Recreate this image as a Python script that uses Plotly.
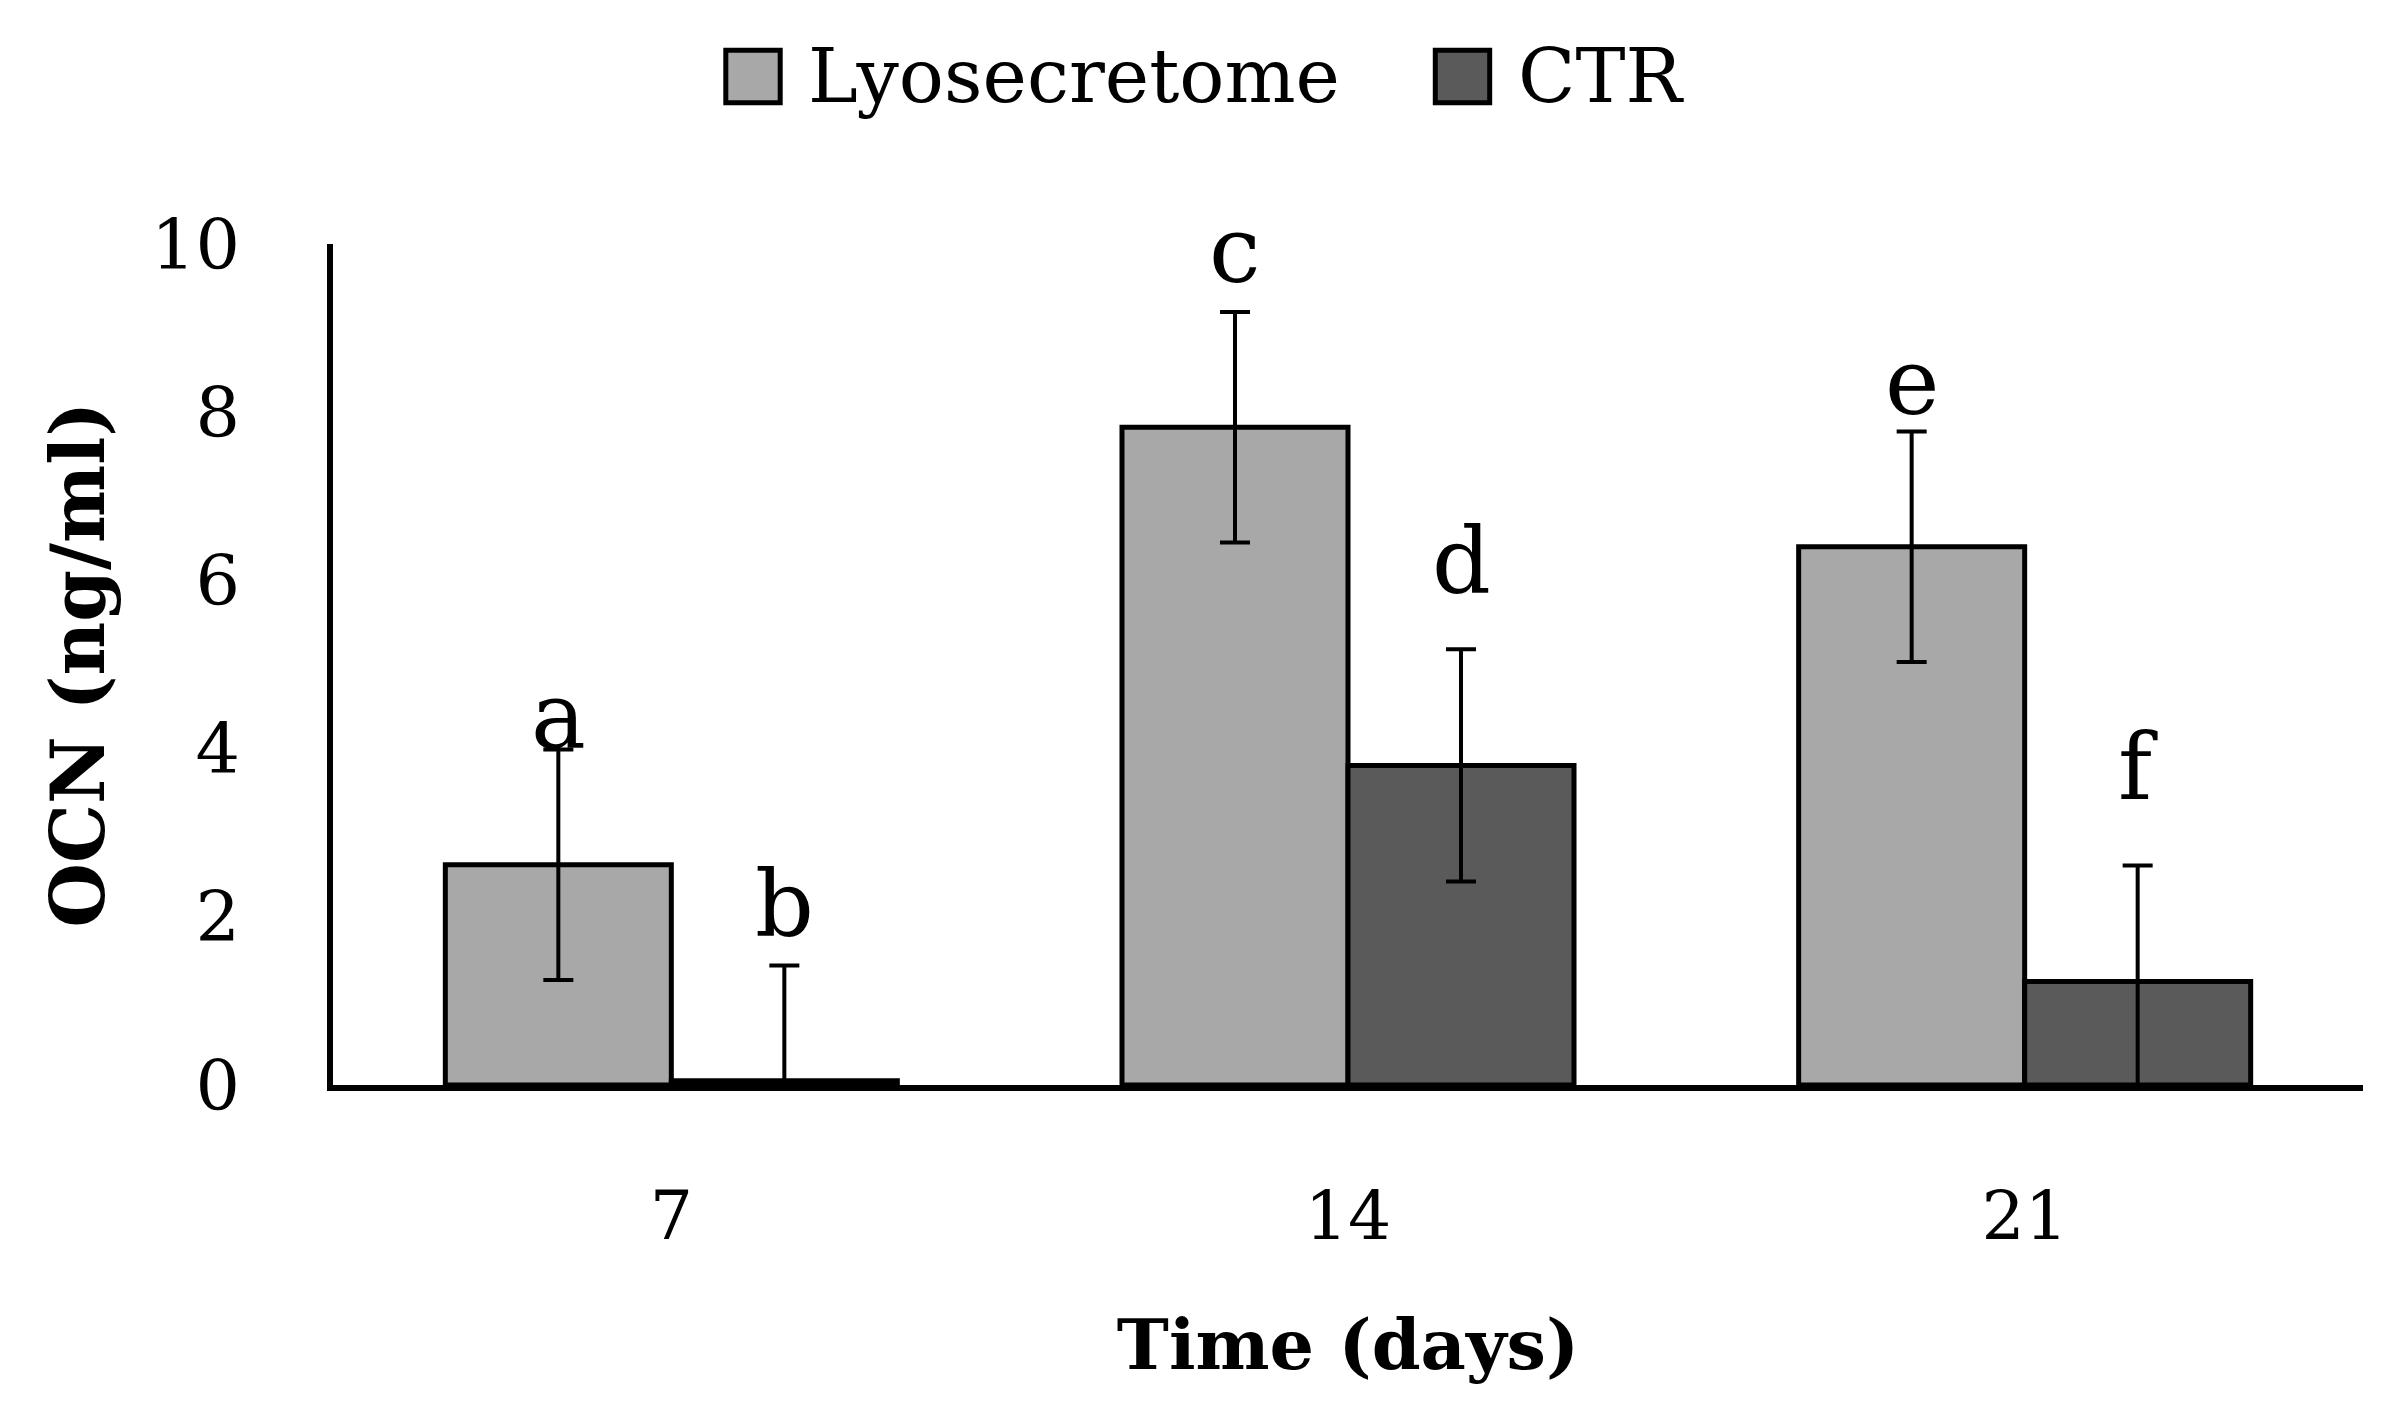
import plotly.graph_objects as go

# ---- data ----
days = ["7", "14", "21"]
lyo_values = [2.62, 7.82, 6.40]
lyo_errors = [1.37, 1.37, 1.37]
ctr_values = [0.05, 3.80, 1.23]
ctr_errors = [1.37, 1.38, 1.38]
lyo_letters = ["a", "c", "e"]
ctr_letters = ["b", "d", "f"]
lyo_letter_y = [3.98, 9.52, 7.95]
ctr_letter_y = [1.75, 5.83, 3.38]

FONT = "DejaVu Serif"
LYO_COLOR = "#A8A8A8"
CTR_COLOR = "#5A5A5A"

fig = go.Figure()
fig.add_trace(go.Bar(
    name="Lyosecretome", x=days, y=lyo_values,
    marker=dict(color=LYO_COLOR, line=dict(color="black", width=5)),
    error_y=dict(type="data", array=lyo_errors, visible=True, color="black", thickness=4, width=15),
    showlegend=False,
))
fig.add_trace(go.Bar(
    name="CTR", x=days, y=ctr_values,
    marker=dict(color=CTR_COLOR, line=dict(color="black", width=5)),
    error_y=dict(type="data", array=ctr_errors, visible=True, color="black", thickness=4, width=15),
    showlegend=False,
))

bargap = 0.332
half = (1 - bargap) / 4  # offset of each bar centre from category centre
annotations = []
for i in range(len(days)):
    annotations.append(dict(x=i - half, y=lyo_letter_y[i], xref="x", yref="y", text=lyo_letters[i],
                            showarrow=False, yanchor="bottom", yshift=-22,
                            font=dict(family=FONT, size=92, color="black")))
    annotations.append(dict(x=i + half, y=ctr_letter_y[i], xref="x", yref="y", text=ctr_letters[i],
                            showarrow=False, yanchor="bottom", yshift=-22,
                            font=dict(family=FONT, size=92, color="black")))

# manual legend (large swatches)
legend_items = [("Lyosecretome", LYO_COLOR, 0.1935, 0.2330), ("CTR", CTR_COLOR, 0.5430, 0.5830)]
shapes = []
for name, col, sx, tx in legend_items:
    shapes.append(dict(type="rect", xref="paper", yref="paper", x0=sx, x1=sx + 0.0268,
                       y0=1.1680, y1=1.2305, fillcolor=col, line=dict(color="black", width=5)))
    annotations.append(dict(x=tx, y=1.2000, xref="paper", yref="paper", text=name, showarrow=False,
                            xanchor="left", yanchor="middle",
                            font=dict(family=FONT, size=75, color="black")))

fig.update_layout(
    width=2382, height=1408,
    margin=dict(l=325, r=27, t=236, b=331),
    paper_bgcolor="white", plot_bgcolor="white",
    barmode="group", bargap=bargap, bargroupgap=0,
    font=dict(family=FONT, color="black", size=68),
    annotations=annotations, shapes=shapes,
    showlegend=False,
)
fig.update_xaxes(
    type="category", showline=True, linecolor="black", linewidth=6, showgrid=False,
    ticks="", ticklabelstandoff=66, tickfont=dict(family=FONT, size=68),
    title=dict(text="<b>Time (days)</b>", font=dict(family=FONT, size=70), standoff=68),
    automargin=False, zeroline=False,
)
fig.update_yaxes(
    range=[0, 10], tickvals=[0, 2, 4, 6, 8, 10], showline=True, linecolor="black", linewidth=6,
    showgrid=False, zeroline=False, ticks="", ticklabelstandoff=73,
    tickfont=dict(family=FONT, size=70),
    title=dict(text="<b>OCN (ng/ml)</b>", font=dict(family=FONT, size=74), standoff=24),
    automargin=False,
)

fig.write_html("out.html")
